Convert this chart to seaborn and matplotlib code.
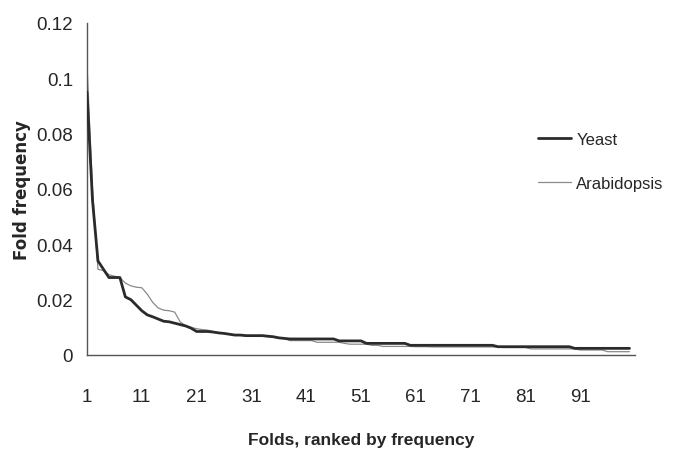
import numpy as np
import pandas as pd
import matplotlib
matplotlib.use("Agg")
import matplotlib.pyplot as plt
import seaborn as sns
from matplotlib.lines import Line2D

ranks = list(range(1, 101))

yeast = ([0.095, 0.056, 0.034, 0.031, 0.028, 0.028, 0.028, 0.021, 0.020, 0.018,
          0.016, 0.0145, 0.0138, 0.013, 0.0122, 0.0120, 0.0115, 0.0110, 0.0105, 0.0097,
          0.0085, 0.0085, 0.0085, 0.0083, 0.0080, 0.0078, 0.0075,
          0.0072, 0.0072, 0.0070, 0.0070, 0.0070, 0.0070, 0.0068, 0.0066,
          0.0062, 0.0060, 0.0058]
         + [0.0058] * 8 + [0.0051] * 5 + [0.0042] * 8 + [0.0035] * 16
         + [0.0030] * 14 + [0.0024] * 11)

arabidopsis = ([0.105, 0.060, 0.031, 0.0305, 0.029, 0.0285, 0.028, 0.026, 0.025, 0.0245,
                0.0243, 0.022, 0.019, 0.017, 0.0162, 0.016, 0.0155, 0.012, 0.0105, 0.010,
                0.0095, 0.0092, 0.009, 0.0085, 0.008,
                0.0078, 0.0075, 0.0072, 0.0071, 0.0070,
                0.0070, 0.0069, 0.0068, 0.0066, 0.0064, 0.0062, 0.0060]
               + [0.0052] * 5 + [0.0046] * 5 + [0.0042] + [0.0039] * 4 + [0.0035] * 2
               + [0.0031] * 6 + [0.0030] * 3 + [0.0029] * 13 + [0.0027] * 5
               + [0.0022] * 9 + [0.0018] * 5 + [0.0012] * 5)

series_names = ["Yeast", "Arabidopsis"]
x_tick_labels = [str(v) for v in range(1, 92, 10)]
y_ticks = [0, 0.02, 0.04, 0.06, 0.08, 0.1, 0.12]
y_tick_labels = ["0", "0.02", "0.04", "0.06", "0.08", "0.1", "0.12"]

df = pd.DataFrame({
    "rank": ranks * 2,
    "freq": yeast + arabidopsis,
    "species": [series_names[0]] * len(ranks) + [series_names[1]] * len(ranks),
})

sns.set_style("white")
plt.rcParams["font.family"] = ["Liberation Sans", "DejaVu Sans"]

fig = plt.figure(figsize=(6.73, 4.52), dpi=100)
ax = fig.add_axes([87 / 673, 1 - 356 / 452, (635 - 87) / 673, (356 - 24) / 452])

colors = {"Yeast": "#2b2b2b", "Arabidopsis": "#8a8a8a"}
widths = {"Yeast": 2.0, "Arabidopsis": 0.9}
for name in series_names:
    sub = df[df["species"] == name]
    sns.lineplot(data=sub, x="rank", y="freq", ax=ax, color=colors[name],
                 linewidth=widths[name], legend=False, zorder=3 if name == "Yeast" else 2)

ax.set_xlim(1, 101)
ax.set_ylim(0, 0.12)
ax.set_xticks(list(range(1, 92, 10)) + [101])
ax.set_xticklabels(x_tick_labels + [""], fontsize=13.5)
ax.set_yticks(y_ticks)
ax.set_yticklabels(y_tick_labels, fontsize=13.5)

for s in ["top", "right"]:
    ax.spines[s].set_visible(False)
for s in ["left", "bottom"]:
    ax.spines[s].set_color("#555555")
    ax.spines[s].set_linewidth(1.0)

ax.tick_params(axis="x", direction="out", length=6, width=1, color="#333333", pad=18)
ax.tick_params(axis="y", direction="out", length=5, width=1, color="#333333", pad=5)

ax.set_xlabel("Folds, ranked by frequency", fontsize=12.5, fontweight="bold",
              family=["Liberation Sans", "DejaVu Sans"], labelpad=19)
ax.set_ylabel("Fold frequency", fontsize=12, fontweight="bold",
              family=["DejaVu Sans"], labelpad=4)

handles = [Line2D([0], [0], color=colors[n], lw=widths[n]) for n in series_names]
fig.legend(handles, series_names, loc="upper left",
           bbox_to_anchor=(538 / 673, 1 - 133 / 452), frameon=False, fontsize=12,
           handlelength=2.0, handletextpad=0.3, labelspacing=1.75, borderpad=0,
           borderaxespad=0)

fig.savefig("out.png", dpi=100)
